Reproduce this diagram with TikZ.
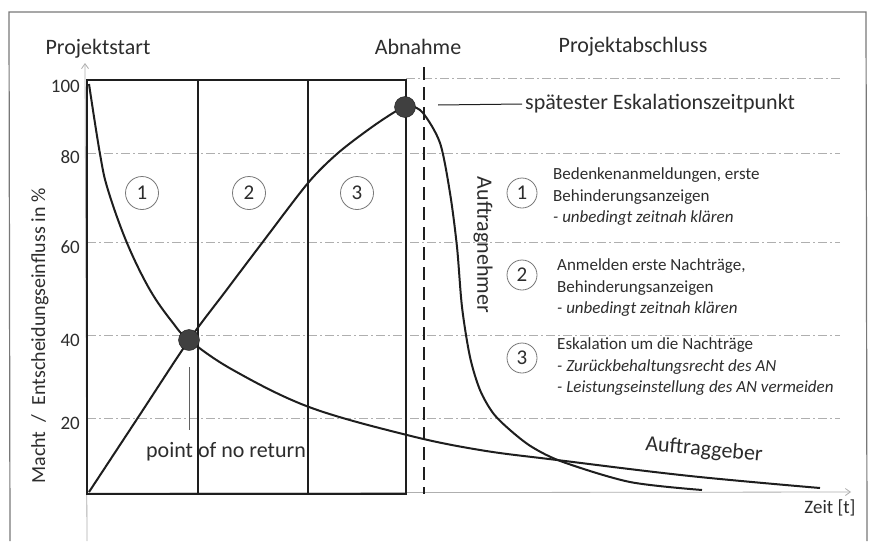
\documentclass[tikz,border=0pt]{standalone}
\usepackage{fontspec}
\setmainfont{Carlito}
\usetikzlibrary{arrows.meta}
\definecolor{txt}{RGB}{45,45,45}
\definecolor{ink}{RGB}{30,30,30}
\definecolor{gridc}{RGB}{175,175,175}
\definecolor{framec}{RGB}{120,120,120}
\begin{document}
\begin{tikzpicture}[x=1pt,y=-1pt,
  big/.style={font=\fontsize{22}{26}\selectfont, text=txt, inner sep=0pt},
  ticklab/.style={font=\fontsize{19}{22}\selectfont, text=txt, anchor=east, inner sep=0pt},
  lst/.style={font=\fontsize{17}{21.5}\selectfont, text=txt, align=left, anchor=west, inner sep=0pt},
  numc/.style={circle, draw=framec, line width=0.8pt, minimum size=33pt, inner sep=0pt, font=\fontsize{21}{24}\selectfont, text=txt},
  numr/.style={numc, minimum size=30pt},
  gridline/.style={gridc, line width=0.8pt, dash pattern=on 9pt off 3pt on 2pt off 3pt},
  boxline/.style={ink, line width=2.4pt},
  curve/.style={ink, line width=2pt},
  dot/.style={circle, fill=ink!85, draw=ink, minimum size=21pt, inner sep=0pt}
]
\useasboundingbox (0,0) rectangle (872,541);
\fill[white] (0,0) rectangle (872,541);
% outer frame
\draw[framec, line width=1.2pt] (10,541) -- (9,12) -- (866,12) -- (867,541);
% grid lines
\draw[gridline] (406,78) -- (840,78);
\foreach \yy in {153,242,335,418} \draw[gridline] (87,\yy) -- (840,\yy);
% axes
\draw[gridc, line width=0.8pt, -{Straight Barb[length=5pt,width=7pt]}] (87,493) -- (851,492);
\draw[gridc, line width=0.8pt, -{Straight Barb[length=5pt,width=7pt]}] (87,541) -- (85,63);
% chart box
\draw[boxline] (87,80) rectangle (406,494);
\draw[ink, line width=2pt] (198,80) -- (198,494);
\draw[ink, line width=2pt] (308,80) -- (308,494);
% dashed line
\draw[ink, line width=2.2pt, dash pattern=on 13pt off 7pt] (424,67) -- (424,494);
% tick labels
\node[ticklab] (t100) at (80,86) {100};
\node[ticklab] (t80) at (80,157) {80};
\node[ticklab] (t60) at (80,247) {60};
\node[ticklab] (t40) at (80,340) {40};
\node[ticklab] (t20) at (80,423) {20};
% y label
\node[font=\fontsize{20}{24}\selectfont, text=txt, rotate=90, inner sep=0pt] (ylab) at (40,336) {Macht~~/~~Entscheidungseinfluss in \%};
% header labels
\node[big] (start) at (98,49) {Projektstart};
\node[big] (abn) at (418,47) {Abnahme};
\node[big] (absch) at (633,47) {Projektabschluss};
\node[font=\fontsize{19}{22}\selectfont, text=txt, inner sep=0pt] (zeit) at (830,508) {Zeit [t]};
% curves
\draw[curve] plot[smooth, tension=0.6] coordinates {(89,84) (100,154) (108,190) (127,243) (150,290) (173,323) (189,340) (233,370) (309,407) (407,435) (480,450) (557,460) (690,476) (820,488)};
\draw[curve] plot[smooth, tension=0.5] coordinates {(89,492) (139,416) (189,340) (225,292) (262,243) (308,183) (338,153) (372,127) (398,110) (410,106) (423,113) (440,143) (450,193) (457,247) (462,307) (470,357) (480,390) (493,413) (510,430) (532,447) (563,462) (630,482) (702,490)};
% dots
\node[dot] (ponr) at (189,340) {};
\node[dot] (peak) at (405,107) {};
% chart circles
\node[numc] (c1) at (142,193) {1};
\node[numc] (c2) at (249,193) {2};
\node[numc] (c3) at (357,193) {3};
% spaetester
\node[big, anchor=west, inner xsep=3pt] (spaet) at (522,104) {spätester Eskalationszeitpunkt};
\coordinate (pkline) at (438,105);
\draw[ink, line width=1pt] (pkline) -- (spaet.west);
% point of no return
\node[big] (ponrlab) at (226,452) {point of no return};
\coordinate (pt1) at (189,367);
\coordinate (pt2) at (189,430);
\draw[ink!70, line width=1pt] (pt1) -- (pt2);
% curve labels
\node[big, rotate=-90] (an) at (483,245) {Auftragnehmer};
\node[big, rotate=-5] (ag) at (704,450) {Auftraggeber};
% list
\node[numr] (r1) at (522,193) {1};
\node[numr] (r2) at (522,275) {2};
\node[numr] (r3) at (522,358) {3};
\node[lst] (l1) at (553,197) {Bedenkenanmeldungen, erste\\Behinderungsanzeigen\\\textit{- unbedingt zeitnah klären}};
\node[lst] (l2) at (557,288) {Anmelden erste Nachträge,\\Behinderungsanzeigen\\\textit{- unbedingt zeitnah klären}};
\node[lst] (l3) at (557,367) {Eskalation um die Nachträge\\\textit{- Zurückbehaltungsrecht des AN}\\\textit{- Leistungseinstellung des AN vermeiden}};
\end{tikzpicture}
\end{document}
